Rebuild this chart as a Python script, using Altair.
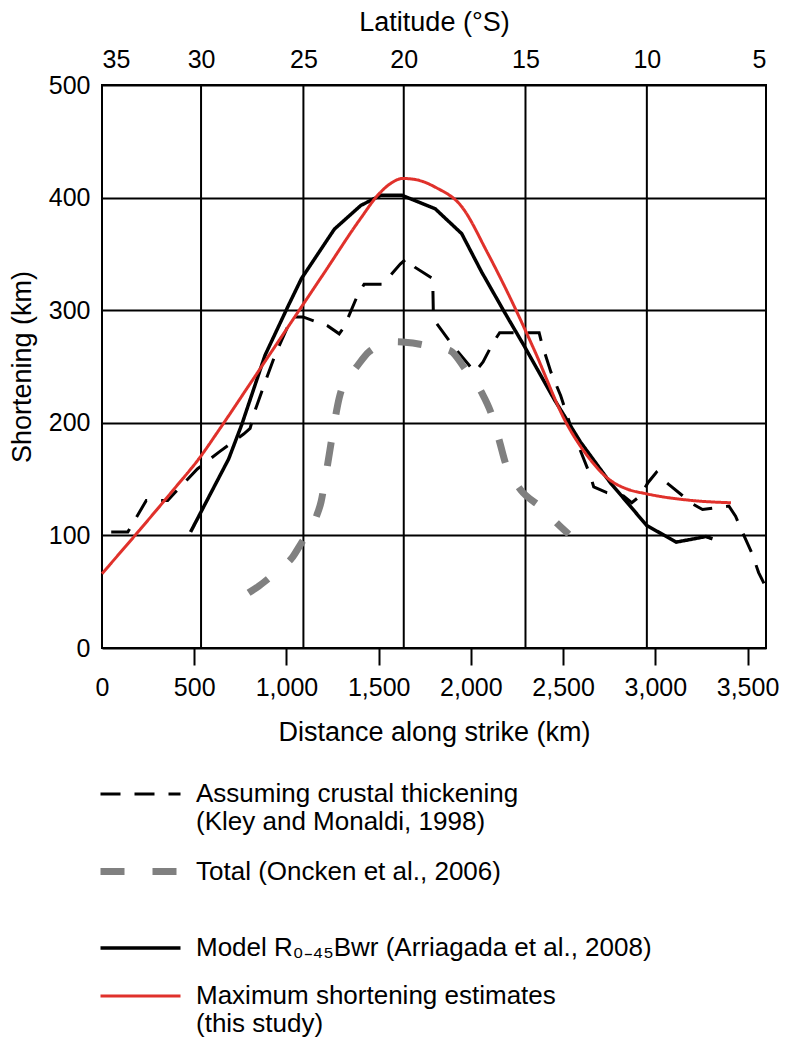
import json
import altair as alt
import pandas as pd

# ---- data ----
kley_km = [50, 140, 240, 356, 401, 517, 634, 768, 803, 830, 884, 938, 1030, 1090, 1224, 1286, 1313,
           1385, 1421, 1519, 1564, 1617, 1653, 1698, 1793, 1797, 1905, 1986, 2021, 2066, 2120, 2156,
           2370, 2385, 2434, 2487, 2541, 2648, 2666, 2737, 2827, 2872, 2917, 2961, 3006, 3060, 3202,
           3256, 3399, 3435, 3480, 3524, 3560, 3590]
kley_val = [103, 103, 131, 131, 139, 159, 174, 190, 195, 211, 236, 260, 294, 294, 286, 279, 285,
            313, 323, 323, 331, 341, 346, 338, 328, 292, 268, 252, 245, 254, 271, 280,
            280, 270, 245, 224, 197, 153, 143, 138, 135, 129, 135, 147, 156, 147, 128,
            123, 126, 117, 100, 84, 67, 57]

oncken_km = [795, 850, 920, 980, 1030, 1080, 1143, 1165, 1188, 1210, 1235, 1260, 1286, 1320, 1367,
             1447, 1530, 1591, 1716, 1800, 1888, 1968, 2058, 2111, 2156, 2190, 2230, 2272, 2380, 2478, 2531]
oncken_val = [49, 55, 64, 72, 80, 93, 109, 118, 130, 150, 175, 200, 222, 238, 247,
              263, 270, 272, 270, 267, 264, 248, 227, 208, 183, 163, 150, 140, 125, 109, 101]

model_km = [480, 687, 759, 884, 1010, 1081, 1260, 1403, 1510, 1627, 1807, 1950, 2058, 2183, 2290,
            2451, 2594, 2755, 2952, 3113, 3274, 3310]
model_val = [103, 168, 199, 260, 304, 328, 372, 393, 402, 402, 390, 368, 334, 298, 268,
             221, 183, 147, 109, 94, 99, 97]

max_km = [0, 200, 400, 525, 640, 800, 1000, 1200, 1400, 1500, 1560, 1630, 1700, 1810, 1950, 2090,
          2210, 2340, 2520, 2630, 2755, 2850, 2950, 3200, 3410]
max_val = [66, 104, 143, 168, 195, 234, 283, 332, 381, 403, 412, 417, 416, 409, 392, 351,
           312, 266, 199, 171, 149, 141, 137, 131, 129]

lat_km = [0, 537, 1092, 1636, 2296, 2954, 3600]
lat_labels = ["35", "30", "25", "20", "15", "10", "5"]
x_ticks = [0, 500, 1000, 1500, 2000, 2500, 3000, 3500]
y_ticks = [0, 100, 200, 300, 400, 500]

series_keys = ["kley", "oncken", "model", "max"]
series_labels = [
    ["Assuming crustal thickening", "(Kley and Monaldi, 1998)"],
    ["Total (Oncken et al., 2006)", ""],
    ["Model R\u2080\u208b\u2084\u2085Bwr (Arriagada et al., 2008)"],
    ["Maximum shortening estimates", "(this study)"],
]
series_colors = ["#000000", "#808080", "#000000", "#e0312b"]
series_dash = [[20, 14], [24, 28], [1, 0], [1, 0]]
series_width = [3, 7, 3.5, 3]

FONT = "Liberation Sans"

rows = []
for key, kms, vals in [("kley", kley_km, kley_val), ("oncken", oncken_km, oncken_val),
                       ("model", model_km, model_val), ("max", max_km, max_val)]:
    for i, (k, v) in enumerate(zip(kms, vals)):
        rows.append({"series": key, "km": k, "val": v, "idx": i})
df = pd.DataFrame(rows)
lat_df = pd.DataFrame({"lat_km": lat_km})

legend_expr = " : ".join(
    f"datum.value == '{k}' ? {json.dumps(l, ensure_ascii=False)}" for k, l in zip(series_keys, series_labels)
) + " : ''"
lat_expr = f"{json.dumps(lat_labels)}[indexof({json.dumps(lat_km)}, datum.value)]"

xscale = alt.Scale(domain=[0, 3600], nice=False, zero=False)
yscale = alt.Scale(domain=[0, 500], nice=False)

legend = alt.Legend(orient="none", legendX=25, legendY=696, symbolType="M-4,0H4", symbolSize=400,
                    labelFontSize=26, labelFont=FONT, labelExpr=legend_expr, labelLimit=700,
                    labelOffset=42, rowPadding=22, labelColor="black", padding=0,
                    direction="vertical")

bottom_axis = alt.Axis(orient="bottom", values=x_ticks, format=",d", labelFlush=False, grid=False,
                       domain=False, tickSize=17, tickWidth=2, tickColor="black",
                       tickOpacity={"condition": {"test": "datum.value == 0", "value": 0}, "value": 1},
                       labelFontSize=25, labelPadding=10, labelColor="black",
                       title="Distance along strike (km)", titleFontSize=27, titleFontWeight="normal",
                       titlePadding=19, titleColor="black")
y_axis = alt.Axis(values=y_ticks, grid=True, gridColor="black", gridWidth=2, gridOpacity=1,
                  domain=False, ticks=False, labelFontSize=25, labelPadding=12, labelColor="black",
                  labelFlush=False, title="Shortening (km)", titleFontSize=27,
                  titleFontWeight="normal", titlePadding=12, titleColor="black")
top_axis = alt.Axis(orient="top", values=lat_km, labelExpr=lat_expr, grid=False, domain=False,
                    ticks=False, labelFontSize=25, labelPadding=13, labelFlush=True,
                    labelColor="black", title="Latitude (\u00b0S)", titleFontSize=27,
                    titleFontWeight="normal", titlePadding=11, titleColor="black")

enc = dict(
    x=alt.X("km:Q", scale=xscale, axis=bottom_axis),
    y=alt.Y("val:Q", scale=yscale, axis=y_axis),
    color=alt.Color("series:N", scale=alt.Scale(domain=series_keys, range=series_colors),
                    legend=legend, title=None),
    strokeDash=alt.StrokeDash("series:N", scale=alt.Scale(domain=series_keys, range=series_dash),
                              legend=legend, title=None),
    strokeWidth=alt.StrokeWidth("series:N",
                                scale=alt.Scale(type="ordinal", domain=series_keys, range=series_width),
                                legend=legend, title=None),
    order=alt.Order("idx:Q"),
)

base = alt.Chart(df)
lin = base.transform_filter("datum.series == 'kley' || datum.series == 'model'").mark_line(
    interpolate="linear").encode(**enc)
smooth = base.transform_filter("datum.series == 'oncken' || datum.series == 'max'").mark_line(
    interpolate="monotone").encode(**enc)

rules = alt.Chart(lat_df).mark_rule(color="black", strokeWidth=2).encode(
    x=alt.X("lat_km:Q", scale=xscale, axis=top_axis)
)

chart = alt.layer(rules, alt.layer(lin, smooth)).resolve_axis(x="independent").properties(
    width=664, height=563, padding={"left": 0, "top": 0, "right": 0, "bottom": 0}
).configure(font=FONT).configure_view(stroke="black", strokeWidth=2)

chart.save("out.html", embed_options={"renderer": "svg", "actions": False})
